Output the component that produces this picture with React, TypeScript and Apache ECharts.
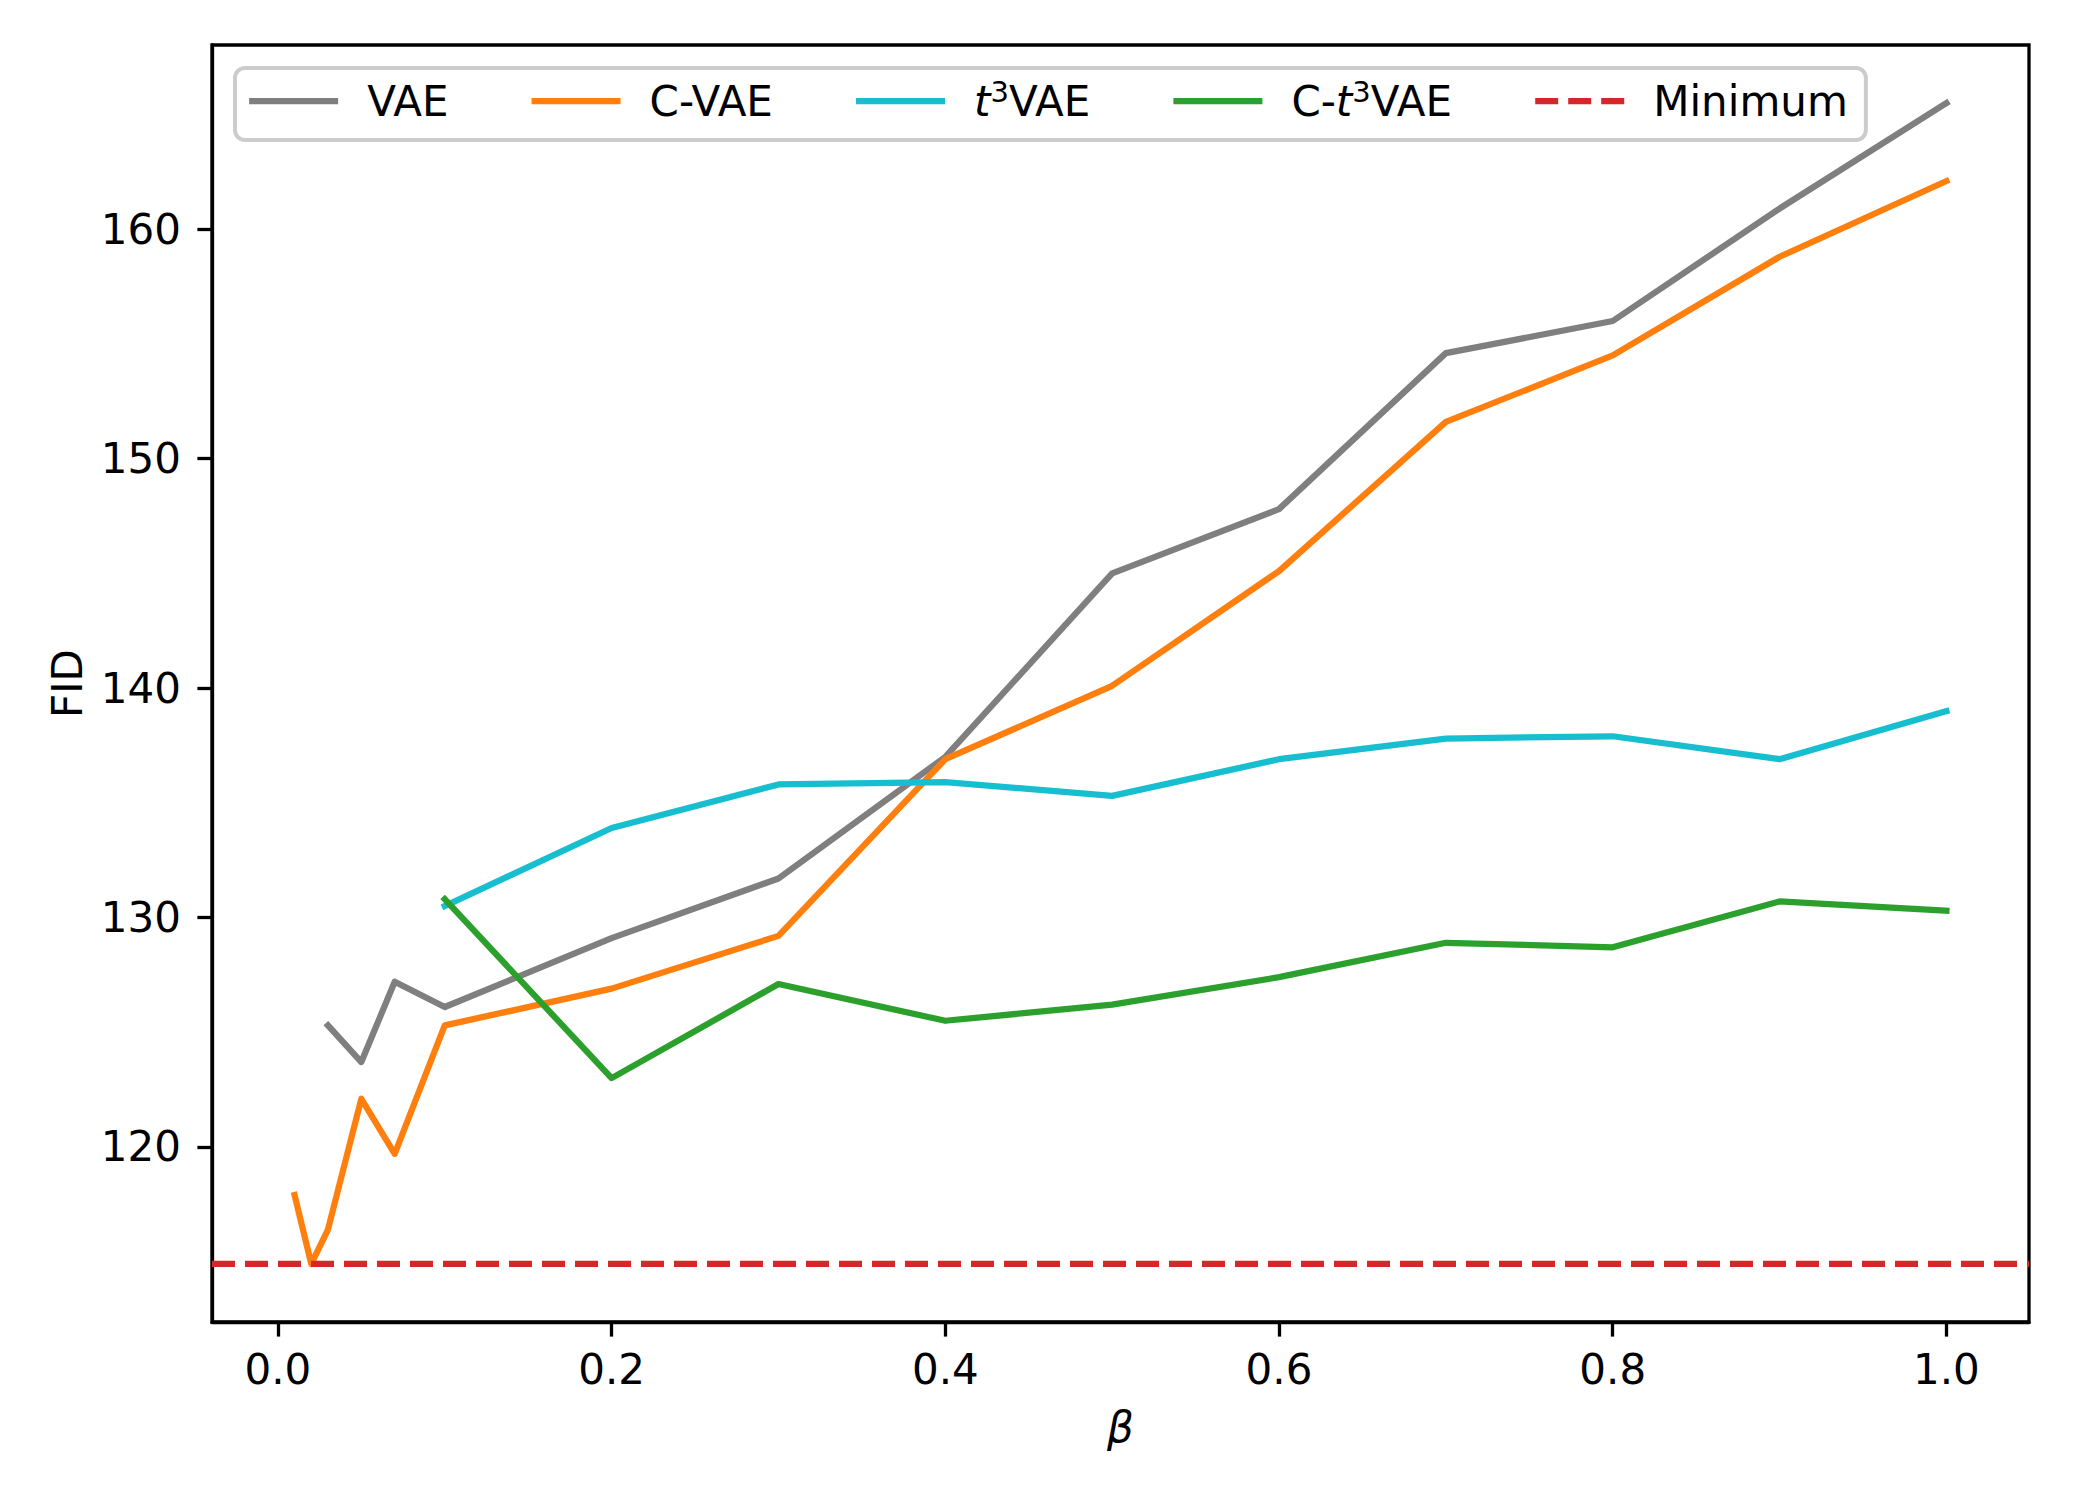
import React, { useEffect, useRef } from "react";
import * as echarts from "echarts";

// ---- data ----
const betaVAE = [0.03, 0.05, 0.07, 0.1, 0.2, 0.3, 0.4, 0.5, 0.6, 0.7, 0.8, 0.9, 1.0];
const fidVAE = [125.3, 123.7, 127.2, 126.1, 129.1, 131.7, 137.0, 145.0, 147.8, 154.6, 156.0, 160.9, 165.5];

const betaCVAE = [0.01, 0.02, 0.03, 0.05, 0.07, 0.1, 0.2, 0.3, 0.4, 0.5, 0.6, 0.7, 0.8, 0.9, 1.0];
const fidCVAE = [117.9, 114.9, 116.4, 122.1, 119.7, 125.3, 126.9, 129.2, 136.9, 140.1, 145.1, 151.6, 154.5, 158.8, 162.1];

const betaT3 = [0.1, 0.2, 0.3, 0.4, 0.5, 0.6, 0.7, 0.8, 0.9, 1.0];
const fidT3VAE = [130.5, 133.9, 135.8, 135.9, 135.3, 136.9, 137.8, 137.9, 136.9, 139.0];
const fidCT3VAE = [130.8, 123.0, 127.1, 125.5, 126.2, 127.4, 128.9, 128.7, 130.7, 130.3];

const xTicks = [0, 0.2, 0.4, 0.6, 0.8, 1.0];
const yTicks = [120, 130, 140, 150, 160];

const seriesNames = ["VAE", "C-VAE", "t3VAE", "C-t3VAE", "Minimum"];
const seriesColors = ["#7f7f7f", "#ff7f0e", "#17becf", "#2ca02c", "#d62728"];

const FONT = "DejaVu Sans";

export default function App() {
  const ref = useRef<HTMLDivElement>(null);

  useEffect(() => {
    if (!ref.current) return;
    const chart = echarts.init(ref.current, undefined, { renderer: "svg" });

    const minimum = Math.min(...fidCVAE);
    const allX = [...betaVAE, ...betaCVAE, ...betaT3];
    const allY = [...fidVAE, ...fidCVAE, ...fidT3VAE, ...fidCT3VAE, minimum];
    const dxMin = Math.min(...allX), dxMax = Math.max(...allX);
    const dyMin = Math.min(...allY), dyMax = Math.max(...allY);
    const xPad = (dxMax - dxMin) * 0.05;
    const yPad = (dyMax - dyMin) * 0.05;
    const xMin = dxMin - xPad, xMax = dxMax + xPad;
    const yMin = dyMin - yPad, yMax = dyMax + yPad;

    const mk = (name: string, xs: number[], ys: number[], color: string) => ({
      type: "line",
      name,
      data: xs.map((x, i) => [x, ys[i]]),
      symbol: "none",
      showSymbol: false,
      silent: true,
      clip: true,
      itemStyle: { color },
      lineStyle: { color, width: 6.25, cap: "square", join: "round" },
    });

    const legendText = (name: string) => {
      if (name === "t3VAE") return "{t|t}{s|3}{n|VAE}";
      if (name === "C-t3VAE") return "{n|C-}{t|t}{s|3}{n|VAE}";
      return "{n|" + name + "}";
    };

    chart.setOption({
      animation: false,
      backgroundColor: "#ffffff",
      grid: {
        left: 212,
        right: 71,
        top: 45,
        bottom: 178,
        show: true,
        borderColor: "#000000",
        borderWidth: 3.3,
        backgroundColor: "transparent",
      },
      legend: {
        left: 235,
        top: 68,
        orient: "horizontal",
        itemWidth: 89,
        itemHeight: 1,
        itemGap: 80,
        padding: [9, 18, 15, 11],
        backgroundColor: "rgba(255,255,255,0.8)",
        borderColor: "#cccccc",
        borderWidth: 4,
        borderRadius: 10,
        selectedMode: false,
        itemStyle: { opacity: 0 },
        lineStyle: { width: 6.25, cap: "butt" },
        formatter: legendText,
        textStyle: {
          fontFamily: FONT,
          fontSize: 42,
          color: "#000000",
          lineHeight: 48,
          padding: [0, 0, 0, 24],
          rich: {
            n: { fontFamily: FONT, fontSize: 42, color: "#000000", lineHeight: 48 },
            t: { fontFamily: FONT, fontSize: 42, fontStyle: "italic", color: "#000000", lineHeight: 48 },
            s: { fontFamily: FONT, fontSize: 29, color: "#000000", verticalAlign: "top", lineHeight: 32 },
          },
        },
        data: seriesNames,
      },
      xAxis: {
        type: "value",
        min: xMin,
        max: xMax,
        name: "β",
        nameLocation: "middle",
        nameGap: 84,
        nameTextStyle: { fontFamily: FONT, fontSize: 42, fontStyle: "italic", color: "#000000" },
        axisLine: { show: true, onZero: false, lineStyle: { color: "#000000", width: 3.3 } },
        axisTick: { show: true, customValues: xTicks, length: 14.6, lineStyle: { color: "#000000", width: 3.3 } },
        axisLabel: {
          customValues: xTicks,
          formatter: (v: number) => v.toFixed(1),
          fontFamily: FONT,
          fontSize: 42,
          color: "#000000",
          margin: 26,
        },
        splitLine: { show: false },
      },
      yAxis: {
        type: "value",
        min: yMin,
        max: yMax,
        name: "FID",
        nameLocation: "middle",
        nameGap: 124,
        nameTextStyle: { fontFamily: FONT, fontSize: 42, color: "#000000" },
        axisLine: { show: true, onZero: false, lineStyle: { color: "#000000", width: 3.3 } },
        axisTick: { show: true, customValues: yTicks, length: 14.6, lineStyle: { color: "#000000", width: 3.3 } },
        axisLabel: {
          customValues: yTicks,
          formatter: (v: number) => String(Math.round(v)),
          fontFamily: FONT,
          fontSize: 42,
          color: "#000000",
          margin: 31,
        },
        splitLine: { show: false },
      },
      series: [
        mk(seriesNames[0], betaVAE, fidVAE, seriesColors[0]),
        mk(seriesNames[1], betaCVAE, fidCVAE, seriesColors[1]),
        mk(seriesNames[2], betaT3, fidT3VAE, seriesColors[2]),
        mk(seriesNames[3], betaT3, fidCT3VAE, seriesColors[3]),
        {
          type: "line",
          name: seriesNames[4],
          data: [[xMin, minimum], [xMax, minimum]],
          symbol: "none",
          showSymbol: false,
          silent: true,
          itemStyle: { color: seriesColors[4] },
          lineStyle: { color: seriesColors[4], width: 6.25, type: [23, 10], cap: "butt" },
        },
      ],
    });

    return () => chart.dispose();
  }, []);

  return (
    <div
      ref={ref}
      style={{ position: "absolute", left: 0, top: 0, width: 2100, height: 1500 }}
    />
  );
}
